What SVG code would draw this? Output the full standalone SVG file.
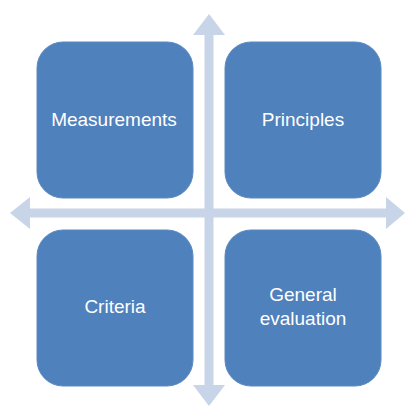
<svg xmlns="http://www.w3.org/2000/svg" width="406" height="408" viewBox="0 0 406 408">
<style>
.box{fill:#4F81BD;stroke:#5B8AC2;stroke-width:1}
.arr{fill:#C8D5E8}
.lbl{fill:#FFFFFF;font-family:"Liberation Sans",Arial,sans-serif;font-size:19px;text-anchor:middle}
</style>
<rect width="406" height="408" fill="#FFFFFF"/>
<g id="connectors">
<polygon class="arr" points="209,14 225,35 213.5,35 213.5,385 225,385 209,406 193,385 204.5,385 204.5,35 193,35"/>
<polygon class="arr" points="10,213 30,197 30,208.5 386,208.5 386,197 405,213 386,229 386,217.5 30,217.5 30,229"/>
</g>
<g id="measurements">
<rect class="box" x="37" y="42" width="156" height="156" rx="26"/>
<text class="lbl" x="114" y="125.5">Measurements</text>
</g>
<g id="principles">
<rect class="box" x="225" y="42" width="156" height="156" rx="26"/>
<text class="lbl" x="303" y="125.5">Principles</text>
</g>
<g id="criteria">
<rect class="box" x="37" y="230" width="156" height="156" rx="26"/>
<text class="lbl" x="115" y="313">Criteria</text>
</g>
<g id="general-evaluation">
<rect class="box" x="225" y="230" width="156" height="156" rx="26"/>
<text class="lbl" x="303" y="301">General</text>
<text class="lbl" x="303" y="325">evaluation</text>
</g>
</svg>
